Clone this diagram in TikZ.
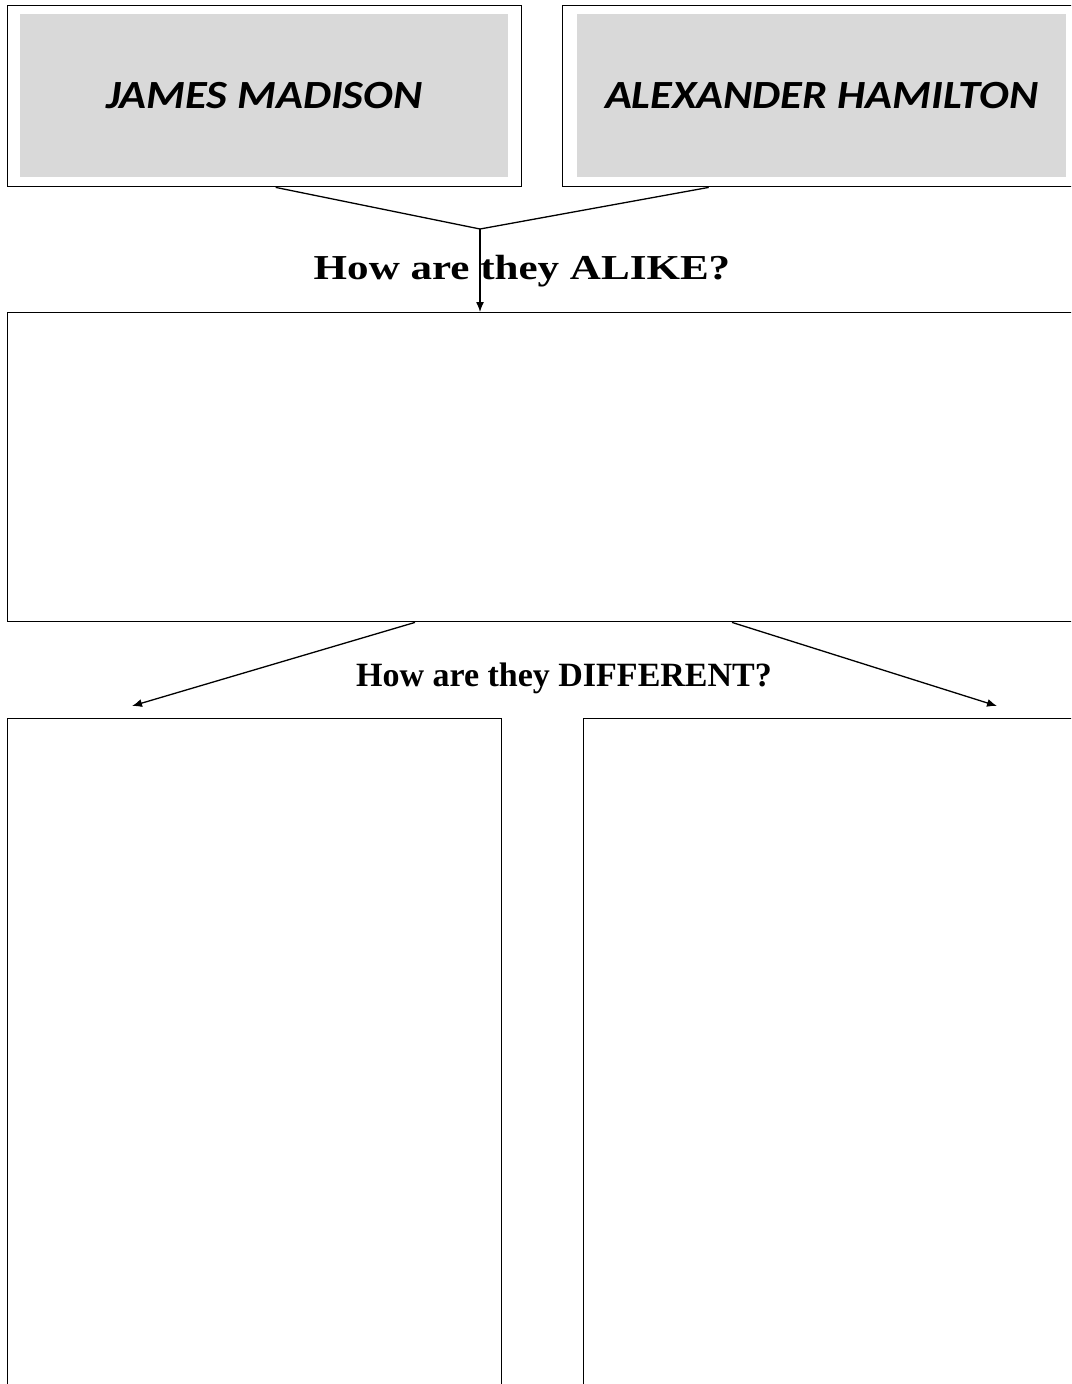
\documentclass[tikz,border=0pt]{standalone}
\usepackage{fontspec}
\setmainfont{Liberation Serif}
\newfontfamily\namefont{Carlito}
\usetikzlibrary{arrows.meta,calc}

\tikzset{
  frame/.style={draw=black, line width=1.4pt, inner sep=0pt, anchor=north west},
  namebox/.style={fill=black!15, inner sep=0pt, anchor=north west,
    font=\namefont\bfseries\itshape\fontsize{40}{44}\selectfont},
  question/.style={inner sep=0pt, font=\bfseries\fontsize{34}{38}\selectfont},
  link/.style={line width=1.3pt},
  pointer/.style={line width=1.3pt, -{Latex[length=10pt,width=8pt]}}
}

\begin{document}
\begin{tikzpicture}[x=1pt, y=-1pt]
  \useasboundingbox (0,0) rectangle (1071,1384);
  \clip (0,0) rectangle (1071,1384);

  % name boxes at the top: white frame around a grey panel
  \node[frame, minimum width=514pt, minimum height=181pt] (jmbox) at (7,5) {};
  \node[namebox, minimum width=488pt, minimum height=163pt] (jm) at (20,14)
    {\scalebox{1.11}[1]{JAMES MADISON}};
  \node[frame, minimum width=518pt, minimum height=181pt] (ahbox) at (562,5) {};
  \node[namebox, minimum width=489pt, minimum height=163pt] (ah) at (577,14)
    {\scalebox{1.11}[1]{ALEXANDER HAMILTON}};

  % the two names meet and point down into the common box
  \coordinate (meet) at (480,229);
  \node[question, font=\bfseries\fontsize{35}{38}\selectfont] (alike) at (522,271)
    {\scalebox{1.23}[1]{How are they ALIKE?}};
  \node[frame, minimum width=1073pt, minimum height=309pt] (same) at (7,312) {};
  \draw[link] ($(jmbox.south)+(11,0)$) -- (meet);
  \draw[link] ($(ahbox.south)+(-113,0)$) -- (meet);
  \draw[pointer] (meet) -- (meet |- same.north);

  % differences
  \node[question] (differ) at (564,678) {How are they DIFFERENT?};
  \node[frame, minimum width=494pt, minimum height=700pt] (jmdiff) at (7,718) {};
  \node[frame, minimum width=497pt, minimum height=700pt] (ahdiff) at (583,718) {};
  \coordinate (lefttip) at (132,706);
  \coordinate (righttip) at (997,706);
  \draw[pointer] ($(same.south west)+(408,0)$) -- (lefttip);
  \draw[pointer] ($(same.south west)+(725,0)$) -- (righttip);
\end{tikzpicture}
\end{document}
